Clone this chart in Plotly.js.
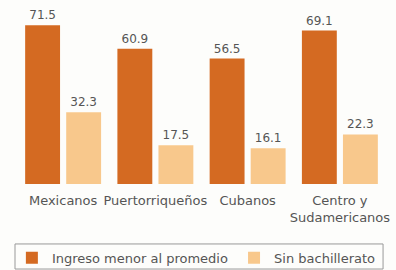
<!DOCTYPE html>
<html>
<head>
<meta charset="utf-8">
<script src="https://cdn.plot.ly/plotly-3.0.1.min.js"></script>
<style>html,body{margin:0;padding:0;background:#fff;}#chart{width:396px;height:270px;}</style>
</head>
<body>
<div id="chart"></div>
<script>
const categories = ["Mexicanos", "Puertorriqueños", "Cubanos", "Centro y<br>Sudamericanos"];
const ingresoMenor = [71.5, 60.9, 56.5, 69.1];
const sinBachillerato = [32.3, 17.5, 16.1, 22.3];
const seriesNames = ["Ingreso menor al promedio", "Sin bachillerato"];

const FAM = "DejaVu Sans, Liberation Sans, sans-serif";
const GREY = "#555";

const traces = [
  {type: "bar", name: seriesNames[0], x: categories, y: ingresoMenor, legend: "legend",
   marker: {color: "#D46A22"}, text: ingresoMenor.map(v => v.toFixed(1)),
   textposition: "outside", textfont: {family: FAM, size: 12, color: GREY},
   cliponaxis: false, hoverinfo: "none"},
  {type: "bar", name: seriesNames[1], x: categories, y: sinBachillerato, legend: "legend2",
   marker: {color: "#F8C88C"}, text: sinBachillerato.map(v => v.toFixed(1)),
   textposition: "outside", textfont: {family: FAM, size: 12, color: GREY},
   cliponaxis: false, hoverinfo: "none"}
];

const legendCommon = {orientation: "h", xref: "container", yref: "container",
  xanchor: "left", yanchor: "middle", y: 0.045, borderwidth: 0,
  bgcolor: "rgba(0,0,0,0)", font: {family: FAM, size: 13, color: GREY}};

const layout = {
  width: 396, height: 270,
  margin: {l: 17, r: 10, t: 5, b: 86, autoexpand: false},
  paper_bgcolor: "#fdfdfb", plot_bgcolor: "#fdfdfb",
  barmode: "group", bargap: 0.11, bargroupgap: 0.15,
  font: {family: FAM, size: 12, color: GREY},
  xaxis: {showline: false, showgrid: false, zeroline: false, ticks: "",
          ticklabelstandoff: 7,
          tickfont: {family: FAM, size: 13, color: GREY}},
  yaxis: {range: [0, 80.6], visible: false},
  showlegend: true,
  legend: Object.assign({}, legendCommon, {x: 0.030}),
  legend2: Object.assign({}, legendCommon, {x: 0.591}),
  shapes: [{type: "rect", xref: "paper", yref: "paper",
            x0: -0.0054, x1: 0.992, y0: -0.475, y1: -0.335,
            line: {color: "#999", width: 1}, fillcolor: "rgba(0,0,0,0)"}]
};

Plotly.newPlot("chart", traces, layout, {staticPlot: true, displayModeBar: false});
</script>
</body>
</html>
